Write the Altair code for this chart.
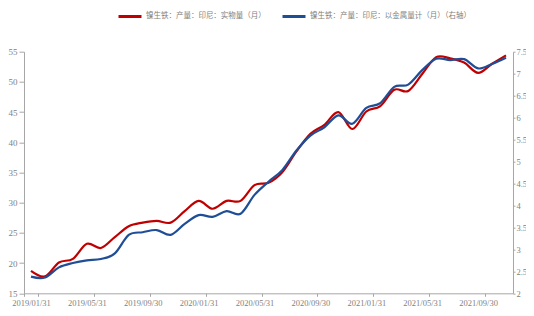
import altair as alt
import pandas as pd

# Monthly categories 2019/01 .. 2021/11 (month-end dates)
months = list(pd.date_range("2019-01-31", periods=35, freq="ME").strftime("%Y/%m/%d"))
tick_months = months[::4]

name_red = "镍生铁：产量：印尼：实物量（月）"
name_blue = "镍生铁：产量：印尼：以金属量计（月）（右轴）"

red_values = [18.7, 17.8, 20.1, 20.7, 23.2, 22.5, 24.3, 26.1, 26.7, 27.0,
              26.7, 28.6, 30.3, 29.0, 30.3, 30.3, 32.9, 33.3, 35.1, 38.5,
              41.4, 42.9, 45.0, 42.2, 45.1, 46.0, 48.7, 48.5, 51.3, 54.1,
              53.9, 53.2, 51.5, 53.0, 54.4]
blue_values = [2.38, 2.36, 2.59, 2.69, 2.75, 2.78, 2.91, 3.33, 3.39, 3.44,
               3.33, 3.58, 3.78, 3.74, 3.87, 3.81, 4.24, 4.54, 4.81, 5.25,
               5.59, 5.78, 6.05, 5.86, 6.22, 6.33, 6.70, 6.75, 7.08, 7.34,
               7.31, 7.33, 7.12, 7.22, 7.36]

left_ticks = [15, 20, 25, 30, 35, 40, 45, 50, 55]
right_ticks = [2, 2.5, 3, 3.5, 4, 4.5, 5, 5.5, 6, 6.5, 7, 7.5]

RED = "#C00000"
BLUE = "#1F4E96"
GREY_TXT = "#7f7f7f"
GREY_LINE = "#a6a6a6"

df = pd.DataFrame({
    "date": months * 2,
    "series": [name_red] * len(months) + [name_blue] * len(months),
    "value": red_values + blue_values,
})

x = alt.X(
    "date:O",
    sort=None,
    bandPosition=0.5,
    scale=alt.Scale(type="band", paddingInner=0, paddingOuter=0),
    axis=alt.Axis(
        values=tick_months, labelAngle=0, tickBand="extent", title=None,
        tickSize=3, labelPadding=2, labelFontSize=8.5,
    ),
)

color = alt.Color(
    "series:N",
    scale=alt.Scale(domain=[name_red, name_blue], range=[RED, BLUE]),
    legend=alt.Legend(
        title=None, orient="none", legendX=93, legendY=-48.2,
        direction="horizontal", symbolType="stroke", symbolSize=529,
        symbolStrokeWidth=3, labelFontSize=7.5, labelFont="Noto Sans CJK SC",
        labelColor=GREY_TXT, columnPadding=10, labelOffset=3, padding=0,
        labelLimit=400,
    ),
)

base = alt.Chart(df)

left = base.transform_filter(alt.datum.series == name_red).mark_line(
    interpolate="cardinal", strokeWidth=2.2
).encode(
    x=x,
    y=alt.Y("value:Q", scale=alt.Scale(domain=[15, 55], nice=False, zero=False),
            axis=alt.Axis(values=left_ticks, orient="left", title=None,
                          tickSize=5, labelPadding=2)),
    color=color,
)

right = base.transform_filter(alt.datum.series == name_blue).mark_line(
    interpolate="cardinal", strokeWidth=2.2
).encode(
    x=x,
    y=alt.Y("value:Q", scale=alt.Scale(domain=[2, 7.5], nice=False, zero=False),
            axis=alt.Axis(values=right_ticks, orient="right", title=None,
                          tickSize=2, labelPadding=1, labelFontSize=8.5,
                          labelExpr="datum.value + ''")),
    color=color,
)

chart = alt.layer(left, right).resolve_scale(y="independent").properties(
    width=489, height=241.6,
    autosize=alt.AutoSizeParams(type="none"),
    padding={"left": 16, "top": 43.7, "right": 13, "bottom": 14.5},
).configure_view(stroke=None).configure_axis(
    grid=False, domainColor=GREY_LINE, tickColor=GREY_LINE,
    labelColor=GREY_TXT, labelFont="Liberation Sans Narrow", labelFontSize=9,
)

chart.save("out.html", embed_options={"renderer": "svg", "actions": False})
